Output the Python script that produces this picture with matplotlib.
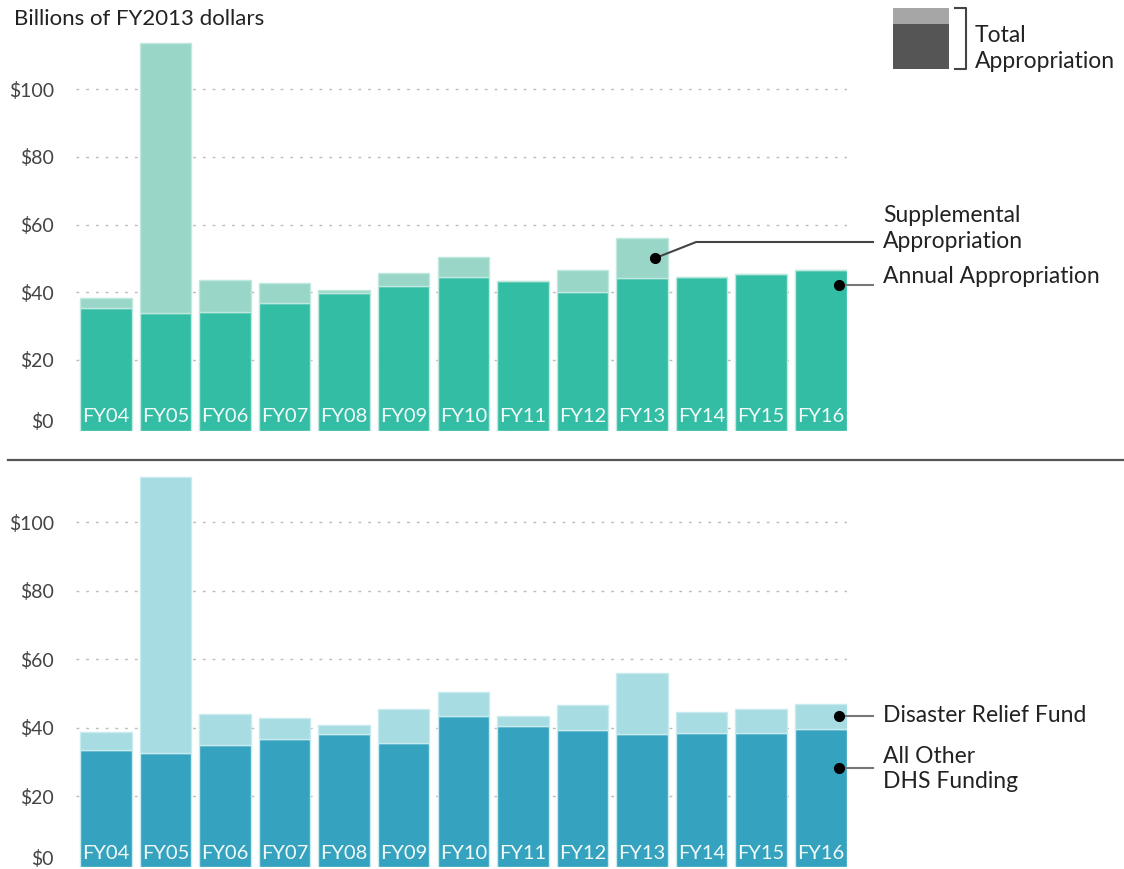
import matplotlib
matplotlib.use("Agg")
import matplotlib.pyplot as plt
import matplotlib.transforms as mtransforms
import numpy as np

# -------------------------------------------------
# data (billions of FY2013 dollars)
# -------------------------------------------------
years = ["FY04", "FY05", "FY06", "FY07", "FY08", "FY09", "FY10",
         "FY11", "FY12", "FY13", "FY14", "FY15", "FY16"]

annual = [35.4, 34.0, 34.3, 36.9, 39.7, 42.0, 44.5, 43.3, 40.0, 44.3, 44.5, 45.3, 46.7]
total_approp = [38.4, 113.7, 43.7, 42.7, 40.7, 45.6, 50.3, 43.3, 46.6, 55.9, 44.5, 45.3, 46.7]

all_other = [33.5, 32.6, 35.1, 36.6, 38.3, 35.7, 43.4, 40.6, 39.4, 38.3, 38.4, 38.6, 39.7]
total_dhs = [38.8, 113.3, 44.0, 42.8, 40.9, 45.6, 50.5, 43.4, 46.6, 55.9, 44.7, 45.4, 46.9]

supplemental = [t - a for t, a in zip(total_approp, annual)]
drf = [t - o for t, o in zip(total_dhs, all_other)]

yticks = [0, 20, 40, 60, 80, 100]
ytick_labels = ["$0", "$20", "$40", "$60", "$80", "$100"]

plt.rcParams["font.family"] = ["Lato", "DejaVu Sans"]

W, H = 1124, 869
fig = plt.figure(figsize=(W / 100, H / 100), dpi=100)

x = np.arange(len(years))
bar_w = 0.865


def panel(rect, ylim, base, top, c_base, c_top, edge):
    ax = fig.add_axes(rect)
    ax.bar(x, np.array(base) - ylim[0], bottom=ylim[0], width=bar_w,
           color=c_base, edgecolor=edge, linewidth=1, zorder=2)
    ax.bar(x, top, bottom=base, width=bar_w,
           color=c_top, edgecolor=edge, linewidth=1, zorder=2)
    for g in yticks[1:]:
        ax.axhline(g, color="#bbbbbb", linestyle=(0, (2, 5)), linewidth=1, zorder=1)
    for i, lab in enumerate(years):
        ax.text(i, 3.4, lab, ha="center", va="center", color="#f2faf8",
                fontsize=14.5, zorder=3)
    ax.set_xlim(-0.5, 12.44)
    ax.set_ylim(*ylim)
    ax.set_yticks(yticks)
    ax.set_yticklabels(ytick_labels, fontsize=14, color="#444444")
    ax.tick_params(axis="y", length=0, pad=16)
    # the $0 label sits a little higher than its value
    lbl0 = ax.get_yticklabels()[0]
    lbl0.set_transform(lbl0.get_transform() +
                       mtransforms.ScaledTranslation(0, 5 / 72, fig.dpi_scale_trans))
    ax.set_xticks([])
    for s in ax.spines.values():
        s.set_visible(False)
    ax.patch.set_alpha(0)
    return ax


# top panel: zero at 427.7 px, 3.385 px per unit
ylim_top = (-1.0, 115.0)
b_px = 427.7 + 3.385 * 1.0
t_px = 427.7 - 3.385 * 115.0
ax1 = panel([76 / W, 1 - b_px / H, (847 - 76) / W, (b_px - t_px) / H],
            ylim_top, annual, supplemental, "#33bda4", "#9ad6c8", "#bfe8de")

# bottom panel: zero at 864.8 px, 3.425 px per unit
ylim_bot = (-0.6, 115.0)
b_px = 864.8 + 3.425 * 0.6
t_px = 864.8 - 3.425 * 115.0
ax2 = panel([76 / W, 1 - b_px / H, (847 - 76) / W, (b_px - t_px) / H],
            ylim_bot, all_other, drf, "#35a2bf", "#a6dce2", "#c8ebef")

# -------------------------------------------------
# overlay in pixel coordinates (y down)
# -------------------------------------------------
ov = fig.add_axes([0, 0, 1, 1], zorder=10)
ov.set_xlim(0, W)
ov.set_ylim(H, 0)
ov.axis("off")


def to_px(ax, xv, yv):
    px, py = ax.transData.transform((xv, yv))
    return px, H - py


fs = 16.5
ov.text(14, 19, "Billions of FY2013 dollars", fontsize=16, color="#222222",
        va="center", ha="left")

# separator
ov.plot([8, W], [460, 460], color="#555555", linewidth=1.6)

# legend box top-right
ov.add_patch(plt.Rectangle((893, 8), 56, 16, color="#a6a6a6", linewidth=0))
ov.add_patch(plt.Rectangle((893, 24), 56, 45, color="#555555", linewidth=0))
ov.plot([955, 966, 966, 955], [8, 8, 69, 69], color="#444444", linewidth=1.5)
ov.text(975, 35, "Total", fontsize=fs, color="#222222", va="center")
ov.text(975, 61, "Appropriation", fontsize=fs, color="#222222", va="center")

# annotations
fig.canvas.draw()
dx, dy = to_px(ax1, 9 + 0.22, annual[9] + supplemental[9] / 2)
ov.plot([dx, dx + 41, 873], [dy, 242, 242], color="#444444", linewidth=1.5)
ov.plot(dx, dy, "o", color="black", markersize=7)
ov.text(883, 215, "Supplemental", fontsize=fs, color="#222222", va="center")
ov.text(883, 241, "Appropriation", fontsize=fs, color="#222222", va="center")

dx, dy = to_px(ax1, 12 + 0.3, 42.2)
ov.plot([dx, 873], [dy, dy], color="#777777", linewidth=1.5)
ov.plot(dx, dy, "o", color="black", markersize=7)
ov.text(883, dy - 8, "Annual Appropriation", fontsize=fs, color="#222222", va="center")

dx, dy = to_px(ax2, 12 + 0.3, all_other[12] + drf[12] / 2)
ov.plot([dx, 873], [dy, dy], color="#777777", linewidth=1.5)
ov.plot(dx, dy, "o", color="black", markersize=7)
ov.text(883, dy - 1, "Disaster Relief Fund", fontsize=fs, color="#222222", va="center")

dx, dy = to_px(ax2, 12 + 0.3, 28.4)
ov.plot([dx, 873], [dy, dy], color="#777777", linewidth=1.5)
ov.plot(dx, dy, "o", color="black", markersize=7)
ov.text(883, dy - 11, "All Other", fontsize=fs, color="#222222", va="center")
ov.text(883, dy + 14, "DHS Funding", fontsize=fs, color="#222222", va="center")

plt.savefig("out.png", dpi=100)
plt.close()
